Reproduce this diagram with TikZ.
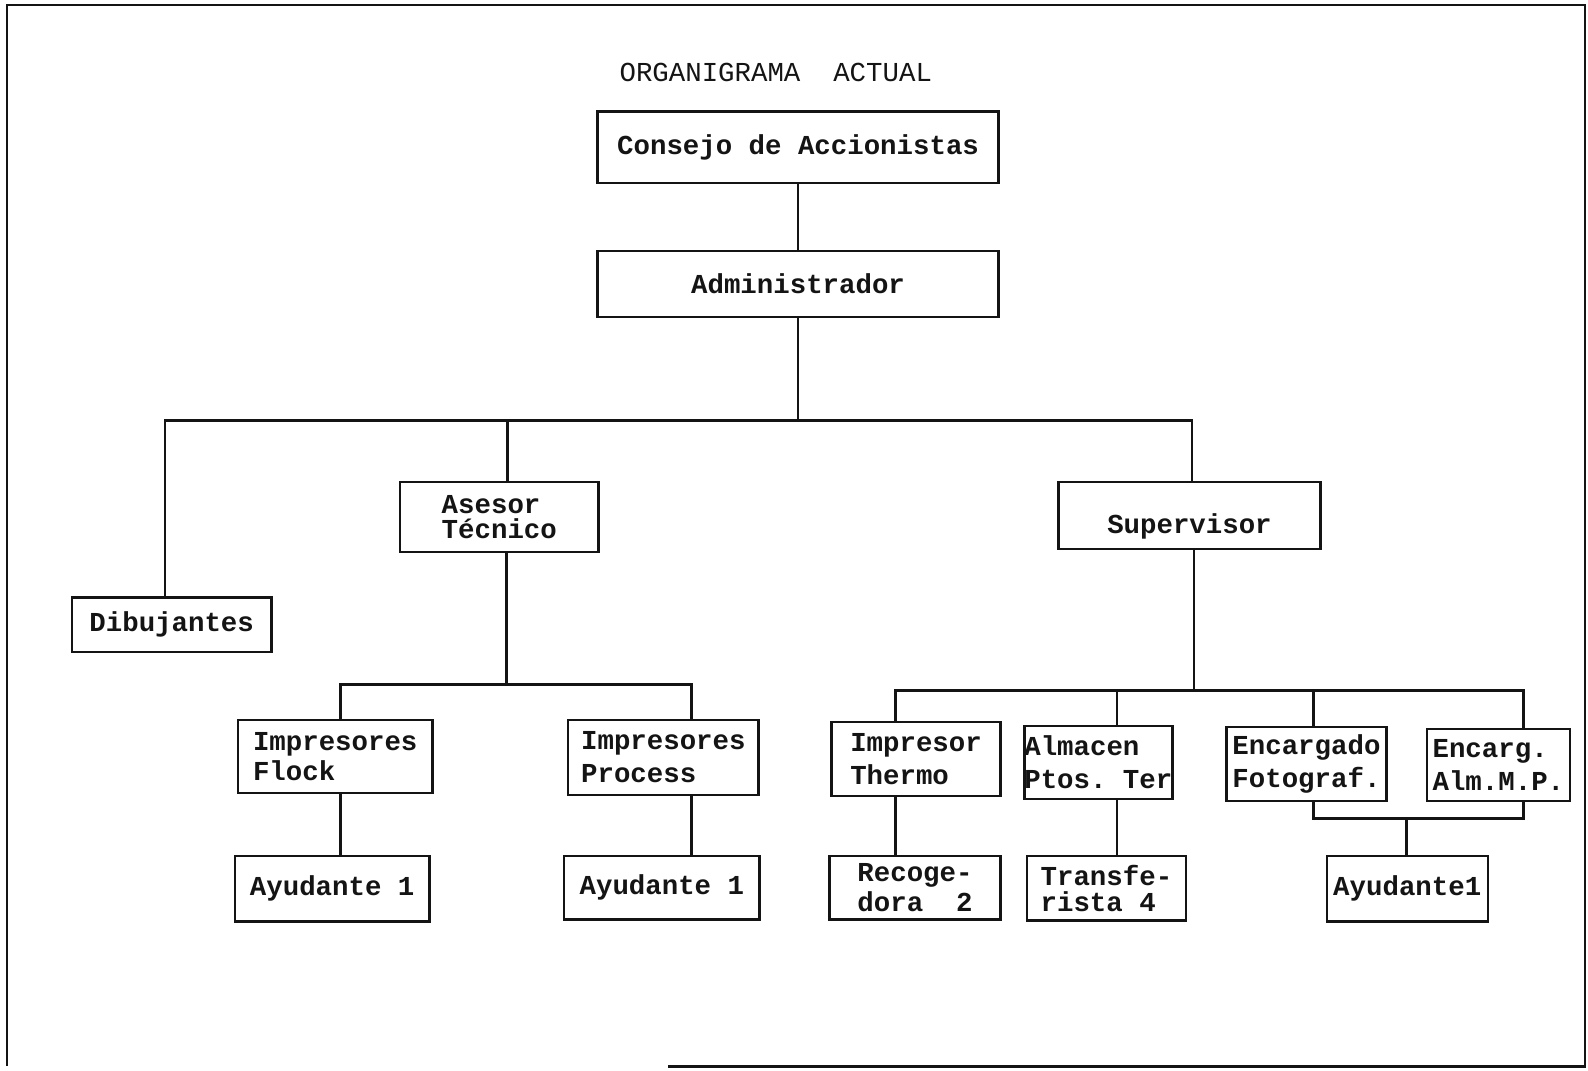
\documentclass[tikz,border=0pt]{standalone}
\definecolor{inkdark}{HTML}{141414}
\usepackage{fontspec}
\setmonofont{Liberation Mono}
\usepackage{tikz}
\newcommand{\orgfont}{\fontsize{15.4}{18.5}\selectfont\ttfamily\bfseries}
\newcommand{\titlefont}{\fontsize{15.4}{18.5}\selectfont\ttfamily}

\begin{document}
\begin{tikzpicture}[x=0.02cm,y=-0.02cm,
    box/.style={draw=inkdark,line width=1.3pt,inner sep=0pt,font=\orgfont,text=inkdark,align=left},
    link/.style={draw=inkdark,line width=1.5pt}]
      \useasboundingbox (0,0) rectangle (1568,1057);
      % Page frame
      \draw[inkdark,line width=1.5pt] (660,1053) -- (1565,1053) -- (1565,5) -- (7,5) -- (7,1053);
      \node[font=\titlefont,text=inkdark] (title) at (766,72) {ORGANIGRAMA\ \ ACTUAL};
      % Top levels
      \node[box,minimum width=7.92cm,minimum height=1.42cm] (consejo) at (788,145.5) {Consejo de Accionistas};
      \node[box,minimum width=7.92cm,minimum height=1.30cm] (admin) at (788,280.5) {Administrador};
      \node[box,minimum width=3.94cm,minimum height=1.08cm] (dibuj) at (169.5,617) {Dibujantes};
      \node[box,minimum width=3.92cm,minimum height=1.38cm] (asesor) at (493,510.5) {Asesor\\[-4pt]Técnico};
      \node[box,minimum width=5.18cm,minimum height=1.32cm,text height=23pt] (super) at (1174.5,509) {Supervisor};
      % Under Asesor
      \node[box,minimum width=3.84cm,minimum height=1.44cm] (flock) at (331,747) {Impresores\\[-2pt]Flock};
      \node[box,minimum width=3.76cm,minimum height=1.48cm] (proc) at (655,748) {Impresores\\Process};
      \node[box,minimum width=3.84cm,minimum height=1.30cm] (ayu1) at (328,877.5) {Ayudante 1};
      \node[box,minimum width=3.86cm,minimum height=1.26cm] (ayu2) at (653.5,876.5) {Ayudante 1};
      % Under Supervisor
      \node[box,minimum width=3.34cm,minimum height=1.46cm] (thermo) at (904.5,749.5) {Impresor\\Thermo};
      \node[box,minimum width=2.74cm,minimum height=1.44cm] (almac) at (1084.5,753) {Almacen\\Ptos. Ter};
      \node[box,minimum width=3.16cm,minimum height=1.46cm] (foto) at (1290,754.5) {Encargado\\Fotograf.};
      \node[box,minimum width=2.82cm,minimum height=1.42cm] (almmp) at (1479.5,755.5) {Encarg.\\Alm.M.P.};
      \node[box,minimum width=3.38cm,minimum height=1.26cm] (recog) at (903.5,876.5) {Recoge-\\[-2pt]dora\ \ 2};
      \node[box,minimum width=3.14cm,minimum height=1.28cm] (transf) at (1092.5,877) {Transfe-\\[-4pt]rista 4};
      \node[box,minimum width=3.18cm,minimum height=1.30cm] (ayu3) at (1389.5,877.5) {Ayudante1};
      % Bus coordinates
      \coordinate (c1) at (163,415);
      \coordinate (c2) at (501,415);
      \coordinate (c3) at (1177,415);
      \coordinate (a0) at (500,676);
      \coordinate (a1) at (336,676);
      \coordinate (a2) at (683,676);
      \coordinate (s0) at (1179,682);
      \coordinate (s1) at (884,682);
      \coordinate (s2) at (1103,682);
      \coordinate (s3) at (1297,682);
      \coordinate (s4) at (1504,682);
      \coordinate (j0) at (1389,808);
      % Connectors
      \draw[link] (consejo) -- (admin);
      \draw[link] (admin) -- (admin |- c1);
      \draw[link] (c1 |- dibuj.north) -- (c1) -- (c3) -- (c3 |- super.north);
      \draw[link] (c2) -- (c2 |- asesor.north);
      \draw[link] (a0 |- asesor.south) -- (a0);
      \draw[link] (a1 |- flock.north) -- (a1) -- (a2) -- (a2 |- proc.north);
      \draw[link] (a1 |- flock.south) -- (a1 |- ayu1.north);
      \draw[link] (a2 |- proc.south) -- (a2 |- ayu2.north);
      \draw[link] (s0 |- super.south) -- (s0);
      \draw[link] (s1 |- thermo.north) -- (s1) -- (s4) -- (s4 |- almmp.north);
      \draw[link] (s2) -- (s2 |- almac.north);
      \draw[link] (s3) -- (s3 |- foto.north);
      \draw[link] (s1 |- thermo.south) -- (s1 |- recog.north);
      \draw[link] (s2 |- almac.south) -- (s2 |- transf.north);
      \draw[link] (s3 |- foto.south) |- (j0) -| (s4 |- almmp.south);
      \draw[link] (j0) -- (j0 |- ayu3.north);
\end{tikzpicture}
\end{document}
